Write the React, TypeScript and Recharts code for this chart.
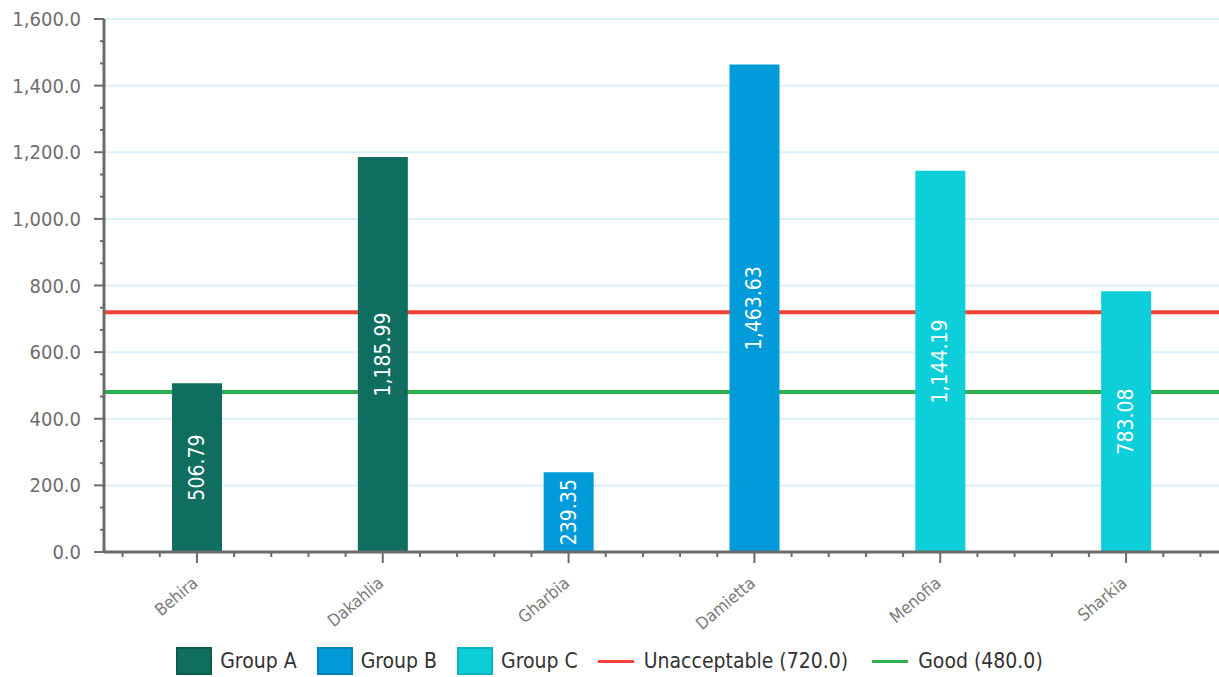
import React from "react";
import {
  ComposedChart,
  Bar,
  XAxis,
  YAxis,
  CartesianGrid,
  Legend,
  LabelList,
} from "recharts";

const categories = ["Behira", "Dakahlia", "Gharbia", "Damietta", "Menofia", "Sharkia"];
const groupA = [506.79, 1185.99, null, null, null, null];
const groupB = [null, null, 239.35, 1463.63, null, null];
const groupC = [null, null, null, null, 1144.19, 783.08];
const unacceptable = 720;
const good = 480;
const yMajorTicks = [0, 200, 400, 600, 800, 1000, 1200, 1400, 1600];

const FONT = "'DejaVu Sans Condensed', 'DejaVu Sans', sans-serif";
const AXIS_COLOR = "#6b6b6b";

const series = [
  { key: "groupA", name: "Group A", fill: "#0f6e60", border: "#0b5a4e" },
  { key: "groupB", name: "Group B", fill: "#009bd8", border: "#0082bb" },
  { key: "groupC", name: "Group C", fill: "#0ccfd9", border: "#0ab3bd" },
];

const limits = [
  { name: `Unacceptable (${unacceptable.toFixed(1)})`, value: unacceptable, color: "#f44336" },
  { name: `Good (${good.toFixed(1)})`, value: good, color: "#2db14d" },
];

const data = categories.map((name, i) => ({
  name,
  pos: i + 0.5,
  groupA: groupA[i],
  groupB: groupB[i],
  groupC: groupC[i],
}));

// five ticks per category on x, two minor ticks between y majors
const xTicks = categories.flatMap((_, i) => [0.1, 0.3, 0.5, 0.7, 0.9].map((f) => i + f));
const yTicks = yMajorTicks.flatMap((v, i) =>
  i < yMajorTicks.length - 1 ? [v, v + 200 / 3, v + 400 / 3] : [v]
);

const fmt1 = (v: number) =>
  v.toLocaleString("en-US", { minimumFractionDigits: 1, maximumFractionDigits: 1 });
const fmt2 = (v: number) =>
  v.toLocaleString("en-US", { minimumFractionDigits: 2, maximumFractionDigits: 2 });

const YTick = (props: any) => {
  const { x, y, payload } = props;
  const v = payload.value;
  const major = yMajorTicks.some((m) => Math.abs(m - v) < 0.01);
  return (
    <g>
      <line x1={x - (major ? 10 : 4)} x2={x} y1={y} y2={y} stroke={AXIS_COLOR} strokeWidth={2} />
      {major && (
        <text
          x={x - 23}
          y={y}
          textAnchor="end"
          dominantBaseline="central"
          fontSize={20}
          fontFamily={FONT}
          fill="#6e6e6e"
        >
          {fmt1(v)}
        </text>
      )}
    </g>
  );
};

const XTick = (props: any) => {
  const { x, y, payload } = props;
  const v = payload.value;
  const idx = Math.floor(v);
  const major = Math.abs(v - idx - 0.5) < 0.01;
  const lx = x + 2;
  const ly = y + 33;
  return (
    <g>
      <line x1={x} x2={x} y1={y} y2={y + (major ? 11 : 5)} stroke={AXIS_COLOR} strokeWidth={2} />
      {major && (
        <text
          x={lx}
          y={ly}
          textAnchor="end"
          fontSize={17}
          fontFamily={FONT}
          fill="#7a7a7a"
          transform={`rotate(-40, ${lx}, ${ly})`}
        >
          {categories[idx]}
        </text>
      )}
    </g>
  );
};

const BarLabel = (props: any) => {
  const { x, y, width, height, value } = props;
  if (value == null || !height) return null;
  const cx = x + width / 2;
  const cy = y + height / 2;
  return (
    <text
      x={cx}
      y={cy}
      textAnchor="middle"
      dominantBaseline="central"
      fontSize={21}
      fontFamily={FONT}
      fill="#ffffff"
      transform={`rotate(-90, ${cx}, ${cy})`}
    >
      {fmt2(value)}
    </text>
  );
};

const LegendContent = () => (
  <div
    style={{
      display: "flex",
      justifyContent: "center",
      alignItems: "center",
      paddingTop: 25,
      fontFamily: FONT,
      fontSize: 21,
      color: "#333",
    }}
  >
    {series.map((s) => (
      <div key={s.key} style={{ display: "flex", alignItems: "center", marginRight: 20 }}>
        <span
          style={{
            width: 32,
            height: 24,
            background: s.fill,
            border: `2px solid ${s.border}`,
            marginRight: 8,
          }}
        />
        <span>{s.name}</span>
      </div>
    ))}
    {limits.map((l, i) => (
      <div
        key={l.name}
        style={{ display: "flex", alignItems: "center", marginRight: i < limits.length - 1 ? 24 : 0 }}
      >
        <span style={{ width: 36, height: 3, background: l.color, marginRight: 10 }} />
        <span>{l.name}</span>
      </div>
    ))}
  </div>
);

export default function App() {
  return (
    <div style={{ position: "absolute", left: 0, top: 0, width: 1219, height: 677, background: "#fff" }}>
      <ComposedChart
        width={1219}
        height={677}
        data={data}
        margin={{ top: 19, right: 0, bottom: 0, left: 0 }}
      >
        <CartesianGrid
          vertical={false}
          horizontalValues={yMajorTicks}
          stroke="#d8f1fb"
          strokeWidth={2}
        />
        {/* threshold lines sit behind the bars */}
        {limits.map((l) => (
          <CartesianGrid
            key={l.name}
            vertical={false}
            horizontalValues={[l.value]}
            stroke={l.color}
            strokeWidth={4}
          />
        ))}
        <XAxis
          dataKey="pos"
          type="number"
          domain={[0, categories.length]}
          ticks={xTicks}
          interval={0}
          tick={<XTick />}
          tickLine={false}
          tickSize={0}
          tickMargin={0}
          axisLine={{ stroke: AXIS_COLOR, strokeWidth: 3 }}
          height={70}
        />
        <YAxis
          type="number"
          domain={[0, 1600]}
          ticks={yTicks}
          interval={0}
          tick={<YTick />}
          tickLine={false}
          tickSize={0}
          tickMargin={0}
          axisLine={{ stroke: AXIS_COLOR, strokeWidth: 3 }}
          width={104}
        />
        {series.map((s) => (
          <Bar
            key={s.key}
            dataKey={s.key}
            name={s.name}
            stackId="g"
            fill={s.fill}
            barSize={50}
            isAnimationActive={false}
          >
            <LabelList dataKey={s.key} content={<BarLabel />} />
          </Bar>
        ))}
        <Legend verticalAlign="bottom" height={55} content={<LegendContent />} />
      </ComposedChart>
    </div>
  );
}
